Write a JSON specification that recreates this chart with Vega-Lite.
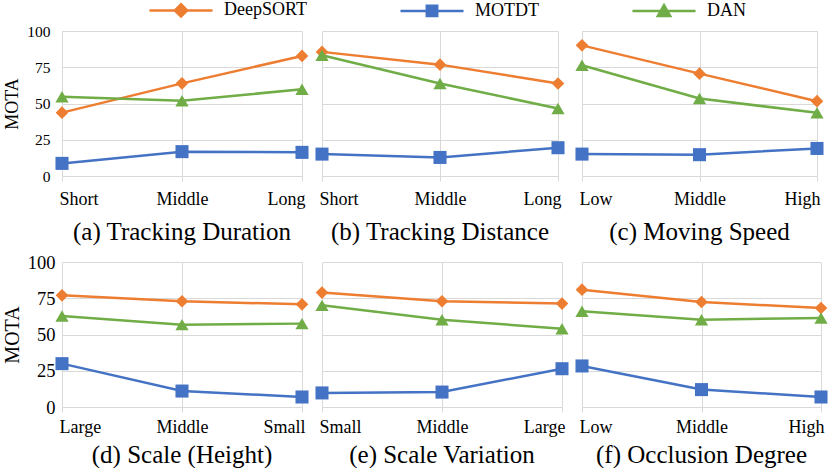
{
  "$schema": "https://vega.github.io/schema/vega-lite/v6.json",
  "padding": {"left": 2, "top": 1, "right": 5, "bottom": 0},
  "bounds": "flush",
  "align": "none",
  "columns": 3,
  "spacing": {"column": 20, "row": 86},
  "data": {
    "values": [
      {"panel": "a", "i": 0, "cat": "Short", "method": "DeepSORT", "mota": 43.7},
      {"panel": "a", "i": 0, "cat": "Short", "method": "MOTDT", "mota": 8.7},
      {"panel": "a", "i": 0, "cat": "Short", "method": "DAN", "mota": 54.7},
      {"panel": "a", "i": 1, "cat": "Middle", "method": "DeepSORT", "mota": 63.9},
      {"panel": "a", "i": 1, "cat": "Middle", "method": "MOTDT", "mota": 16.8},
      {"panel": "a", "i": 1, "cat": "Middle", "method": "DAN", "mota": 51.9},
      {"panel": "a", "i": 2, "cat": "Long", "method": "DeepSORT", "mota": 82.8},
      {"panel": "a", "i": 2, "cat": "Long", "method": "MOTDT", "mota": 16.3},
      {"panel": "a", "i": 2, "cat": "Long", "method": "DAN", "mota": 59.8},
      {"panel": "b", "i": 0, "cat": "Short", "method": "DeepSORT", "mota": 85.6},
      {"panel": "b", "i": 0, "cat": "Short", "method": "MOTDT", "mota": 15.1},
      {"panel": "b", "i": 0, "cat": "Short", "method": "DAN", "mota": 83.3},
      {"panel": "b", "i": 1, "cat": "Middle", "method": "DeepSORT", "mota": 76.8},
      {"panel": "b", "i": 1, "cat": "Middle", "method": "MOTDT", "mota": 12.8},
      {"panel": "b", "i": 1, "cat": "Middle", "method": "DAN", "mota": 63.8},
      {"panel": "b", "i": 2, "cat": "Long", "method": "DeepSORT", "mota": 63.8},
      {"panel": "b", "i": 2, "cat": "Long", "method": "MOTDT", "mota": 19.5},
      {"panel": "b", "i": 2, "cat": "Long", "method": "DAN", "mota": 46.6},
      {"panel": "c", "i": 0, "cat": "Low", "method": "DeepSORT", "mota": 90.1},
      {"panel": "c", "i": 0, "cat": "Low", "method": "MOTDT", "mota": 15.1},
      {"panel": "c", "i": 0, "cat": "Low", "method": "DAN", "mota": 76.4},
      {"panel": "c", "i": 1, "cat": "Middle", "method": "DeepSORT", "mota": 70.6},
      {"panel": "c", "i": 1, "cat": "Middle", "method": "MOTDT", "mota": 14.7},
      {"panel": "c", "i": 1, "cat": "Middle", "method": "DAN", "mota": 53.4},
      {"panel": "c", "i": 2, "cat": "High", "method": "DeepSORT", "mota": 51.6},
      {"panel": "c", "i": 2, "cat": "High", "method": "MOTDT", "mota": 19.0},
      {"panel": "c", "i": 2, "cat": "High", "method": "DAN", "mota": 43.6},
      {"panel": "d", "i": 0, "cat": "Large", "method": "DeepSORT", "mota": 77.0},
      {"panel": "d", "i": 0, "cat": "Large", "method": "MOTDT", "mota": 29.9},
      {"panel": "d", "i": 0, "cat": "Large", "method": "DAN", "mota": 62.8},
      {"panel": "d", "i": 1, "cat": "Middle", "method": "DeepSORT", "mota": 72.9},
      {"panel": "d", "i": 1, "cat": "Middle", "method": "MOTDT", "mota": 11.0},
      {"panel": "d", "i": 1, "cat": "Middle", "method": "DAN", "mota": 56.8},
      {"panel": "d", "i": 2, "cat": "Small", "method": "DeepSORT", "mota": 70.8},
      {"panel": "d", "i": 2, "cat": "Small", "method": "MOTDT", "mota": 6.9},
      {"panel": "d", "i": 2, "cat": "Small", "method": "DAN", "mota": 57.5},
      {"panel": "e", "i": 0, "cat": "Small", "method": "DeepSORT", "mota": 78.9},
      {"panel": "e", "i": 0, "cat": "Small", "method": "MOTDT", "mota": 9.7},
      {"panel": "e", "i": 0, "cat": "Small", "method": "DAN", "mota": 70.1},
      {"panel": "e", "i": 1, "cat": "Middle", "method": "DeepSORT", "mota": 72.9},
      {"panel": "e", "i": 1, "cat": "Middle", "method": "MOTDT", "mota": 10.3},
      {"panel": "e", "i": 1, "cat": "Middle", "method": "DAN", "mota": 60.2},
      {"panel": "e", "i": 2, "cat": "Large", "method": "DeepSORT", "mota": 71.3},
      {"panel": "e", "i": 2, "cat": "Large", "method": "MOTDT", "mota": 26.4},
      {"panel": "e", "i": 2, "cat": "Large", "method": "DAN", "mota": 54.0},
      {"panel": "f", "i": 0, "cat": "Low", "method": "DeepSORT", "mota": 80.9},
      {"panel": "f", "i": 0, "cat": "Low", "method": "MOTDT", "mota": 28.3},
      {"panel": "f", "i": 0, "cat": "Low", "method": "DAN", "mota": 66.0},
      {"panel": "f", "i": 1, "cat": "Middle", "method": "DeepSORT", "mota": 72.4},
      {"panel": "f", "i": 1, "cat": "Middle", "method": "MOTDT", "mota": 12.0},
      {"panel": "f", "i": 1, "cat": "Middle", "method": "DAN", "mota": 60.2},
      {"panel": "f", "i": 2, "cat": "High", "method": "DeepSORT", "mota": 68.3},
      {"panel": "f", "i": 2, "cat": "High", "method": "MOTDT", "mota": 6.9},
      {"panel": "f", "i": 2, "cat": "High", "method": "DAN", "mota": 61.4}
    ]
  },
  "concat": [
    {
      "width": 240, "height": 145,
      "title": {"text": "(a) Tracking Duration", "orient": "bottom", "font": "Liberation Serif", "fontSize": 25, "fontWeight": "normal", "color": "#000", "offset": 12},
      "transform": [{"filter": "datum.panel == 'a'"}],
      "encoding": {
        "x": {"field": "cat", "type": "nominal", "sort": null, "title": null, "scale": {"type": "point", "padding": 0},
          "axis": {"labelFont": "Liberation Serif", "labelFontSize": 18, "labelColor": "#000", "labelAngle": 0, "labelFlush": true, "labelFlushOffset": 3, "labelPadding": 9, "tickColor": "#d9d9d9", "tickSize": 5, "domain": false, "grid": true, "gridColor": "#d9d9d9"}},
        "y": {"field": "mota", "type": "quantitative", "title": "MOTA", "scale": {"domain": [0, 100]},
          "axis": {"values": [0, 25, 50, 75, 100], "labelFont": "Liberation Serif", "labelFontSize": 15.5, "labelColor": "#000", "labelPadding": 12, "ticks": false, "domain": false, "grid": true, "gridColor": "#d9d9d9", "titleFont": "Liberation Serif", "titleFontSize": 18, "titleFontWeight": "normal", "titleColor": "#000", "titlePadding": 5}},
        "color": {"field": "method", "type": "nominal", "title": null,
          "scale": {"domain": ["DeepSORT", "MOTDT", "DAN"], "range": ["#ED7D31", "#4472C4", "#70AD47"]},
          "legend": {"orient": "none", "legendX": 110, "legendY": -30, "direction": "horizontal", "padding": 0, "labelFont": "Liberation Serif", "labelFontSize": 18, "labelColor": "#000", "symbolSize": 169, "symbolOpacity": 1, "symbolStrokeWidth": 2.5, "labelOffset": 34, "columnPadding": 88}},
        "order": {"field": "i"}
      },
      "layer": [
        {"mark": {"type": "line", "strokeWidth": 2.5}},
        {"mark": {"type": "point", "filled": true, "opacity": 0, "size": 169},
         "encoding": {"shape": {"field": "method", "type": "nominal", "title": null,
           "scale": {"domain": ["DeepSORT", "MOTDT", "DAN"], "range": [
             "M-4.85,0L4.85,0M0,-0.95L0.95,0L0,0.95L-0.95,0Z",
             "M-4.85,0L4.85,0M-0.8,-0.8L0.8,-0.8L0.8,0.8L-0.8,0.8Z",
             "M-4.85,0L4.85,0M0,-0.9L0.95,0.75L-0.95,0.75Z"]},
           "legend": {"orient": "none", "legendX": 110, "legendY": -30, "direction": "horizontal", "padding": 0, "labelFont": "Liberation Serif", "labelFontSize": 18, "labelColor": "#000", "symbolSize": 169, "symbolOpacity": 1, "symbolStrokeWidth": 2.5, "labelOffset": 34, "columnPadding": 88}}}},
        {"transform": [{"filter": "datum.method == 'DeepSORT'"}], "mark": {"type": "point", "filled": true, "opacity": 1, "size": 160, "shape": "diamond"}},
        {"transform": [{"filter": "datum.method == 'MOTDT'"}], "mark": {"type": "point", "filled": true, "opacity": 1, "size": 170, "shape": "square"}},
        {"transform": [{"filter": "datum.method == 'DAN'"}], "mark": {"type": "point", "filled": true, "opacity": 1, "size": 175, "shape": "triangle-up"}}
      ]
    },
    {
      "width": 236, "height": 145,
      "title": {"text": "(b) Tracking Distance", "orient": "bottom", "font": "Liberation Serif", "fontSize": 25, "fontWeight": "normal", "color": "#000", "offset": 12},
      "transform": [{"filter": "datum.panel == 'b'"}],
      "encoding": {
        "x": {"field": "cat", "type": "nominal", "sort": null, "title": null, "scale": {"type": "point", "padding": 0},
          "axis": {"labelFont": "Liberation Serif", "labelFontSize": 18, "labelColor": "#000", "labelAngle": 0, "labelFlush": true, "labelFlushOffset": 3, "labelPadding": 9, "tickColor": "#d9d9d9", "tickSize": 5, "domain": false, "grid": true, "gridColor": "#d9d9d9"}},
        "y": {"field": "mota", "type": "quantitative", "title": null, "scale": {"domain": [0, 100]},
          "axis": {"values": [0, 25, 50, 75, 100], "labels": false, "ticks": false, "domain": false, "grid": true, "gridColor": "#d9d9d9"}},
        "color": {"field": "method", "type": "nominal", "title": null,
          "scale": {"domain": ["DeepSORT", "MOTDT", "DAN"], "range": ["#ED7D31", "#4472C4", "#70AD47"]},
          "legend": {"orient": "none", "legendX": 110, "legendY": -30, "direction": "horizontal", "padding": 0, "labelFont": "Liberation Serif", "labelFontSize": 18, "labelColor": "#000", "symbolSize": 169, "symbolOpacity": 1, "symbolStrokeWidth": 2.5, "labelOffset": 34, "columnPadding": 88}},
        "order": {"field": "i"}
      },
      "layer": [
        {"mark": {"type": "line", "strokeWidth": 2.5}},
        {"mark": {"type": "point", "filled": true, "opacity": 0, "size": 169},
         "encoding": {"shape": {"field": "method", "type": "nominal", "title": null,
           "scale": {"domain": ["DeepSORT", "MOTDT", "DAN"], "range": [
             "M-4.85,0L4.85,0M0,-0.95L0.95,0L0,0.95L-0.95,0Z",
             "M-4.85,0L4.85,0M-0.8,-0.8L0.8,-0.8L0.8,0.8L-0.8,0.8Z",
             "M-4.85,0L4.85,0M0,-0.9L0.95,0.75L-0.95,0.75Z"]},
           "legend": {"orient": "none", "legendX": 110, "legendY": -30, "direction": "horizontal", "padding": 0, "labelFont": "Liberation Serif", "labelFontSize": 18, "labelColor": "#000", "symbolSize": 169, "symbolOpacity": 1, "symbolStrokeWidth": 2.5, "labelOffset": 34, "columnPadding": 88}}}},
        {"transform": [{"filter": "datum.method == 'DeepSORT'"}], "mark": {"type": "point", "filled": true, "opacity": 1, "size": 160, "shape": "diamond"}},
        {"transform": [{"filter": "datum.method == 'MOTDT'"}], "mark": {"type": "point", "filled": true, "opacity": 1, "size": 170, "shape": "square"}},
        {"transform": [{"filter": "datum.method == 'DAN'"}], "mark": {"type": "point", "filled": true, "opacity": 1, "size": 175, "shape": "triangle-up"}}
      ]
    },
    {
      "width": 235, "height": 145,
      "title": {"text": "(c) Moving Speed", "orient": "bottom", "font": "Liberation Serif", "fontSize": 25, "fontWeight": "normal", "color": "#000", "offset": 12},
      "transform": [{"filter": "datum.panel == 'c'"}],
      "encoding": {
        "x": {"field": "cat", "type": "nominal", "sort": null, "title": null, "scale": {"type": "point", "padding": 0},
          "axis": {"labelFont": "Liberation Serif", "labelFontSize": 18, "labelColor": "#000", "labelAngle": 0, "labelFlush": true, "labelFlushOffset": 3, "labelPadding": 9, "tickColor": "#d9d9d9", "tickSize": 5, "domain": false, "grid": true, "gridColor": "#d9d9d9"}},
        "y": {"field": "mota", "type": "quantitative", "title": null, "scale": {"domain": [0, 100]},
          "axis": {"values": [0, 25, 50, 75, 100], "labels": false, "ticks": false, "domain": false, "grid": true, "gridColor": "#d9d9d9"}},
        "color": {"field": "method", "type": "nominal", "title": null,
          "scale": {"domain": ["DeepSORT", "MOTDT", "DAN"], "range": ["#ED7D31", "#4472C4", "#70AD47"]},
          "legend": {"orient": "none", "legendX": 110, "legendY": -30, "direction": "horizontal", "padding": 0, "labelFont": "Liberation Serif", "labelFontSize": 18, "labelColor": "#000", "symbolSize": 169, "symbolOpacity": 1, "symbolStrokeWidth": 2.5, "labelOffset": 34, "columnPadding": 88}},
        "order": {"field": "i"}
      },
      "layer": [
        {"mark": {"type": "line", "strokeWidth": 2.5}},
        {"mark": {"type": "point", "filled": true, "opacity": 0, "size": 169},
         "encoding": {"shape": {"field": "method", "type": "nominal", "title": null,
           "scale": {"domain": ["DeepSORT", "MOTDT", "DAN"], "range": [
             "M-4.85,0L4.85,0M0,-0.95L0.95,0L0,0.95L-0.95,0Z",
             "M-4.85,0L4.85,0M-0.8,-0.8L0.8,-0.8L0.8,0.8L-0.8,0.8Z",
             "M-4.85,0L4.85,0M0,-0.9L0.95,0.75L-0.95,0.75Z"]},
           "legend": {"orient": "none", "legendX": 110, "legendY": -30, "direction": "horizontal", "padding": 0, "labelFont": "Liberation Serif", "labelFontSize": 18, "labelColor": "#000", "symbolSize": 169, "symbolOpacity": 1, "symbolStrokeWidth": 2.5, "labelOffset": 34, "columnPadding": 88}}}},
        {"transform": [{"filter": "datum.method == 'DeepSORT'"}], "mark": {"type": "point", "filled": true, "opacity": 1, "size": 160, "shape": "diamond"}},
        {"transform": [{"filter": "datum.method == 'MOTDT'"}], "mark": {"type": "point", "filled": true, "opacity": 1, "size": 170, "shape": "square"}},
        {"transform": [{"filter": "datum.method == 'DAN'"}], "mark": {"type": "point", "filled": true, "opacity": 1, "size": 175, "shape": "triangle-up"}}
      ]
    },
    {
      "width": 240, "height": 145,
      "title": {"text": "(d) Scale (Height)", "orient": "bottom", "font": "Liberation Serif", "fontSize": 25, "fontWeight": "normal", "color": "#000", "offset": 7},
      "transform": [{"filter": "datum.panel == 'd'"}],
      "encoding": {
        "x": {"field": "cat", "type": "nominal", "sort": null, "title": null, "scale": {"type": "point", "padding": 0},
          "axis": {"labelFont": "Liberation Serif", "labelFontSize": 18, "labelColor": "#000", "labelAngle": 0, "labelFlush": true, "labelFlushOffset": 3, "labelPadding": 6, "tickColor": "#d9d9d9", "tickSize": 5, "domain": false, "grid": true, "gridColor": "#d9d9d9"}},
        "y": {"field": "mota", "type": "quantitative", "title": "MOTA", "scale": {"domain": [0, 100]},
          "axis": {"values": [0, 25, 50, 75, 100], "labelFont": "Liberation Serif", "labelFontSize": 18.5, "labelColor": "#000", "labelPadding": 7, "ticks": false, "domain": false, "grid": true, "gridColor": "#d9d9d9", "titleFont": "Liberation Serif", "titleFontSize": 20, "titleFontWeight": "normal", "titleColor": "#000", "titlePadding": 5}},
        "color": {"field": "method", "type": "nominal", "title": null,
          "scale": {"domain": ["DeepSORT", "MOTDT", "DAN"], "range": ["#ED7D31", "#4472C4", "#70AD47"]},
          "legend": {"orient": "none", "legendX": 110, "legendY": -30, "direction": "horizontal", "padding": 0, "labelFont": "Liberation Serif", "labelFontSize": 18, "labelColor": "#000", "symbolSize": 169, "symbolOpacity": 1, "symbolStrokeWidth": 2.5, "labelOffset": 34, "columnPadding": 88}},
        "order": {"field": "i"}
      },
      "layer": [
        {"mark": {"type": "line", "strokeWidth": 2.5}},
        {"mark": {"type": "point", "filled": true, "opacity": 0, "size": 169},
         "encoding": {"shape": {"field": "method", "type": "nominal", "title": null,
           "scale": {"domain": ["DeepSORT", "MOTDT", "DAN"], "range": [
             "M-4.85,0L4.85,0M0,-0.95L0.95,0L0,0.95L-0.95,0Z",
             "M-4.85,0L4.85,0M-0.8,-0.8L0.8,-0.8L0.8,0.8L-0.8,0.8Z",
             "M-4.85,0L4.85,0M0,-0.9L0.95,0.75L-0.95,0.75Z"]},
           "legend": {"orient": "none", "legendX": 110, "legendY": -30, "direction": "horizontal", "padding": 0, "labelFont": "Liberation Serif", "labelFontSize": 18, "labelColor": "#000", "symbolSize": 169, "symbolOpacity": 1, "symbolStrokeWidth": 2.5, "labelOffset": 34, "columnPadding": 88}}}},
        {"transform": [{"filter": "datum.method == 'DeepSORT'"}], "mark": {"type": "point", "filled": true, "opacity": 1, "size": 160, "shape": "diamond"}},
        {"transform": [{"filter": "datum.method == 'MOTDT'"}], "mark": {"type": "point", "filled": true, "opacity": 1, "size": 170, "shape": "square"}},
        {"transform": [{"filter": "datum.method == 'DAN'"}], "mark": {"type": "point", "filled": true, "opacity": 1, "size": 175, "shape": "triangle-up"}}
      ]
    },
    {
      "width": 240, "height": 145,
      "title": {"text": "(e) Scale Variation", "orient": "bottom", "font": "Liberation Serif", "fontSize": 25, "fontWeight": "normal", "color": "#000", "offset": 7},
      "transform": [{"filter": "datum.panel == 'e'"}],
      "encoding": {
        "x": {"field": "cat", "type": "nominal", "sort": null, "title": null, "scale": {"type": "point", "padding": 0},
          "axis": {"labelFont": "Liberation Serif", "labelFontSize": 18, "labelColor": "#000", "labelAngle": 0, "labelFlush": true, "labelFlushOffset": 3, "labelPadding": 6, "tickColor": "#d9d9d9", "tickSize": 5, "domain": false, "grid": true, "gridColor": "#d9d9d9"}},
        "y": {"field": "mota", "type": "quantitative", "title": null, "scale": {"domain": [0, 100]},
          "axis": {"values": [0, 25, 50, 75, 100], "labels": false, "ticks": false, "domain": false, "grid": true, "gridColor": "#d9d9d9"}},
        "color": {"field": "method", "type": "nominal", "title": null,
          "scale": {"domain": ["DeepSORT", "MOTDT", "DAN"], "range": ["#ED7D31", "#4472C4", "#70AD47"]},
          "legend": {"orient": "none", "legendX": 110, "legendY": -30, "direction": "horizontal", "padding": 0, "labelFont": "Liberation Serif", "labelFontSize": 18, "labelColor": "#000", "symbolSize": 169, "symbolOpacity": 1, "symbolStrokeWidth": 2.5, "labelOffset": 34, "columnPadding": 88}},
        "order": {"field": "i"}
      },
      "layer": [
        {"mark": {"type": "line", "strokeWidth": 2.5}},
        {"mark": {"type": "point", "filled": true, "opacity": 0, "size": 169},
         "encoding": {"shape": {"field": "method", "type": "nominal", "title": null,
           "scale": {"domain": ["DeepSORT", "MOTDT", "DAN"], "range": [
             "M-4.85,0L4.85,0M0,-0.95L0.95,0L0,0.95L-0.95,0Z",
             "M-4.85,0L4.85,0M-0.8,-0.8L0.8,-0.8L0.8,0.8L-0.8,0.8Z",
             "M-4.85,0L4.85,0M0,-0.9L0.95,0.75L-0.95,0.75Z"]},
           "legend": {"orient": "none", "legendX": 110, "legendY": -30, "direction": "horizontal", "padding": 0, "labelFont": "Liberation Serif", "labelFontSize": 18, "labelColor": "#000", "symbolSize": 169, "symbolOpacity": 1, "symbolStrokeWidth": 2.5, "labelOffset": 34, "columnPadding": 88}}}},
        {"transform": [{"filter": "datum.method == 'DeepSORT'"}], "mark": {"type": "point", "filled": true, "opacity": 1, "size": 160, "shape": "diamond"}},
        {"transform": [{"filter": "datum.method == 'MOTDT'"}], "mark": {"type": "point", "filled": true, "opacity": 1, "size": 170, "shape": "square"}},
        {"transform": [{"filter": "datum.method == 'DAN'"}], "mark": {"type": "point", "filled": true, "opacity": 1, "size": 175, "shape": "triangle-up"}}
      ]
    },
    {
      "width": 239, "height": 145,
      "title": {"text": "(f) Occlusion Degree", "orient": "bottom", "font": "Liberation Serif", "fontSize": 25, "fontWeight": "normal", "color": "#000", "offset": 7},
      "transform": [{"filter": "datum.panel == 'f'"}],
      "encoding": {
        "x": {"field": "cat", "type": "nominal", "sort": null, "title": null, "scale": {"type": "point", "padding": 0},
          "axis": {"labelFont": "Liberation Serif", "labelFontSize": 18, "labelColor": "#000", "labelAngle": 0, "labelFlush": true, "labelFlushOffset": 3, "labelPadding": 6, "tickColor": "#d9d9d9", "tickSize": 5, "domain": false, "grid": true, "gridColor": "#d9d9d9"}},
        "y": {"field": "mota", "type": "quantitative", "title": null, "scale": {"domain": [0, 100]},
          "axis": {"values": [0, 25, 50, 75, 100], "labels": false, "ticks": false, "domain": false, "grid": true, "gridColor": "#d9d9d9"}},
        "color": {"field": "method", "type": "nominal", "title": null,
          "scale": {"domain": ["DeepSORT", "MOTDT", "DAN"], "range": ["#ED7D31", "#4472C4", "#70AD47"]},
          "legend": {"orient": "none", "legendX": 110, "legendY": -30, "direction": "horizontal", "padding": 0, "labelFont": "Liberation Serif", "labelFontSize": 18, "labelColor": "#000", "symbolSize": 169, "symbolOpacity": 1, "symbolStrokeWidth": 2.5, "labelOffset": 34, "columnPadding": 88}},
        "order": {"field": "i"}
      },
      "layer": [
        {"mark": {"type": "line", "strokeWidth": 2.5}},
        {"mark": {"type": "point", "filled": true, "opacity": 0, "size": 169},
         "encoding": {"shape": {"field": "method", "type": "nominal", "title": null,
           "scale": {"domain": ["DeepSORT", "MOTDT", "DAN"], "range": [
             "M-4.85,0L4.85,0M0,-0.95L0.95,0L0,0.95L-0.95,0Z",
             "M-4.85,0L4.85,0M-0.8,-0.8L0.8,-0.8L0.8,0.8L-0.8,0.8Z",
             "M-4.85,0L4.85,0M0,-0.9L0.95,0.75L-0.95,0.75Z"]},
           "legend": {"orient": "none", "legendX": 110, "legendY": -30, "direction": "horizontal", "padding": 0, "labelFont": "Liberation Serif", "labelFontSize": 18, "labelColor": "#000", "symbolSize": 169, "symbolOpacity": 1, "symbolStrokeWidth": 2.5, "labelOffset": 34, "columnPadding": 88}}}},
        {"transform": [{"filter": "datum.method == 'DeepSORT'"}], "mark": {"type": "point", "filled": true, "opacity": 1, "size": 160, "shape": "diamond"}},
        {"transform": [{"filter": "datum.method == 'MOTDT'"}], "mark": {"type": "point", "filled": true, "opacity": 1, "size": 170, "shape": "square"}},
        {"transform": [{"filter": "datum.method == 'DAN'"}], "mark": {"type": "point", "filled": true, "opacity": 1, "size": 175, "shape": "triangle-up"}}
      ]
    }
  ],
  "config": {
    "view": {"stroke": null},
    "font": "Liberation Serif"
  }
}
